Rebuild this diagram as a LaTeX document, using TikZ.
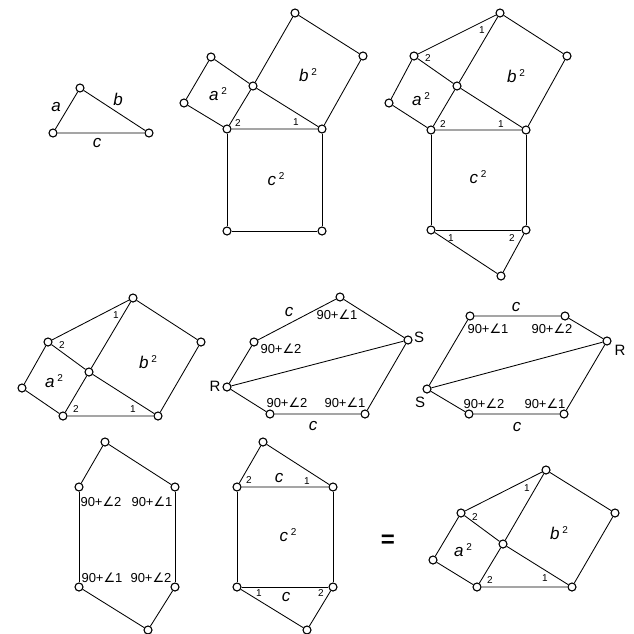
\documentclass[tikz,border=0pt]{standalone}
\usepackage{fontspec}
\setmainfont{Liberation Sans}
\newfontfamily\symfont{DejaVu Sans}
\newcommand{\angsum}[1]{90+{\symfont ∠}#1}
\newcommand{\sqlabel}[1]{#1\,\raisebox{0.75ex}{\upshape\fontsize{10}{10}\selectfont 2}}
\tikzset{
  vtx/.style={circle,draw,fill=white,line width=1.1pt,inner sep=0pt,minimum size=8pt},
  side/.style={line width=0.85pt},
  num/.style={font=\fontsize{10}{10}\selectfont,inner sep=0pt},
  sum/.style={font=\fontsize{13}{13}\selectfont,inner sep=0pt},
  var/.style={font=\fontsize{17}{17}\selectfont\itshape,inner sep=0pt},
  pnt/.style={font=\fontsize{15}{15}\selectfont,inner sep=0pt}
}
\begin{document}
\begin{tikzpicture}[x=1pt,y=-1pt]
\useasboundingbox (0,0) rectangle (634,633);

% triangle a b c
\node[vtx] (t1) at (53,133) {};
\node[vtx] (t2) at (80,88) {};
\node[vtx] (t3) at (149,133) {};
\draw[side] (t1) -- (t2) -- (t3) -- (t1);
\node[var] (la) at (56,107) {a};
\node[var] (lb) at (118,99) {b};
\node[var] (lc) at (97,143) {c};

% squares on the sides
\node[vtx] (f2a) at (227,129) {};
\node[vtx] (f2b) at (322,129) {};
\node[vtx] (f2c) at (253,86) {};
\node[vtx] (f2d) at (184,103) {};
\node[vtx] (f2e) at (211,57) {};
\node[vtx] (f2f) at (295,13) {};
\node[vtx] (f2g) at (363,56) {};
\node[vtx] (f2h) at (227,231) {};
\node[vtx] (f2i) at (322,231) {};
\draw[side] (f2a) -- (f2b) -- (f2c) -- (f2a);
\draw[side] (f2a) -- (f2d) -- (f2e) -- (f2c);
\draw[side] (f2c) -- (f2f) -- (f2g) -- (f2b);
\draw[side] (f2a) -- (f2h) -- (f2i) -- (f2b);
\node[num] (n2a) at (238,123) {2};
\node[num] (n2b) at (296,122) {1};
\node[var] (s2a) at (218,94) {\sqlabel{a}};
\node[var] (s2b) at (308,75) {\sqlabel{b}};
\node[var] (s2c) at (276,179) {\sqlabel{c}};

% with the two extra triangles
\node[vtx] (f3a) at (431,130) {};
\node[vtx] (f3b) at (526,130) {};
\node[vtx] (f3c) at (457,86) {};
\node[vtx] (f3d) at (389,103) {};
\node[vtx] (f3e) at (414,56) {};
\node[vtx] (f3f) at (500,13) {};
\node[vtx] (f3g) at (567,56) {};
\node[vtx] (f3h) at (431,230) {};
\node[vtx] (f3i) at (526,230) {};
\node[vtx] (f3j) at (501,276) {};
\draw[side] (f3a) -- (f3b) -- (f3c) -- (f3a);
\draw[side] (f3a) -- (f3d) -- (f3e) -- (f3c);
\draw[side] (f3c) -- (f3f) -- (f3g) -- (f3b);
\draw[side] (f3e) -- (f3f);
\draw[side] (f3a) -- (f3h) -- (f3i) -- (f3b);
\draw[side] (f3h) -- (f3j) -- (f3i);
\node[num] (n3a) at (482,30) {1};
\node[num] (n3b) at (428,58) {2};
\node[num] (n3c) at (443,124) {2};
\node[num] (n3d) at (501,124) {1};
\node[num] (n3e) at (451,238) {1};
\node[num] (n3f) at (512,238) {2};
\node[var] (s3a) at (421,99) {\sqlabel{a}};
\node[var] (s3b) at (516,76) {\sqlabel{b}};
\node[var] (s3c) at (478,177) {\sqlabel{c}};

% hexagon a^2 + b^2
\node[vtx] (f4a) at (63,416) {};
\node[vtx] (f4b) at (158,416) {};
\node[vtx] (f4c) at (89,372) {};
\node[vtx] (f4d) at (22,388) {};
\node[vtx] (f4e) at (48,342) {};
\node[vtx] (f4f) at (133,298) {};
\node[vtx] (f4g) at (201,342) {};
\draw[side] (f4a) -- (f4b) -- (f4c) -- (f4a);
\draw[side] (f4a) -- (f4d) -- (f4e) -- (f4c);
\draw[side] (f4c) -- (f4f) -- (f4g) -- (f4b);
\draw[side] (f4e) -- (f4f);
\node[num] (n4a) at (116,315) {1};
\node[num] (n4b) at (62,345) {2};
\node[num] (n4c) at (76,409) {2};
\node[num] (n4d) at (133,409) {1};
\node[var] (s4a) at (54,381) {\sqlabel{a}};
\node[var] (s4b) at (148,362) {\sqlabel{b}};

% cut along RS
\node[vtx] (f5r) at (227,387) {};
\node[vtx] (f5a) at (254,342) {};
\node[vtx] (f5b) at (340,297) {};
\node[vtx] (f5s) at (408,340) {};
\node[vtx] (f5c) at (365,414) {};
\node[vtx] (f5d) at (270,414) {};
\draw[side] (f5r) -- (f5a) -- (f5b) -- (f5s) -- (f5c) -- (f5d) -- (f5r);
\draw[side] (f5r) -- (f5s);
\node[var] (c5a) at (289,312) {c};
\node[var] (c5b) at (313,426) {c};
\node[sum] (g5a) at (337,315) {\angsum{1}};
\node[sum] (g5b) at (281,349) {\angsum{2}};
\node[sum] (g5c) at (287,403) {\angsum{2}};
\node[sum] (g5d) at (345,403) {\angsum{1}};
\node[pnt] (r5) at (215,386) {R};
\node[pnt] (s5) at (419,337) {S};

% one half turned over
\node[vtx] (f6a) at (470,316) {};
\node[vtx] (f6b) at (565,316) {};
\node[vtx] (f6r) at (607,341) {};
\node[vtx] (f6c) at (564,414) {};
\node[vtx] (f6d) at (469,414) {};
\node[vtx] (f6s) at (427,389) {};
\draw[side] (f6a) -- (f6b) -- (f6r) -- (f6c) -- (f6d) -- (f6s) -- (f6a);
\draw[side] (f6s) -- (f6r);
\node[var] (c6a) at (516,307) {c};
\node[var] (c6b) at (517,427) {c};
\node[sum] (g6a) at (488,329) {\angsum{1}};
\node[sum] (g6b) at (552,329) {\angsum{2}};
\node[sum] (g6c) at (484,404) {\angsum{2}};
\node[sum] (g6d) at (545,404) {\angsum{1}};
\node[pnt] (r6) at (620,350) {R};
\node[pnt] (s6) at (420,402) {S};

% upright hexagon
\node[vtx] (f7a) at (105,442) {};
\node[vtx] (f7b) at (79,487) {};
\node[vtx] (f7c) at (175,487) {};
\node[vtx] (f7d) at (79,587) {};
\node[vtx] (f7e) at (175,587) {};
\node[vtx] (f7f) at (148,630) {};
\draw[side] (f7b) -- (f7a) -- (f7c);
\draw[side] (f7b) -- (f7d);
\draw[side] (f7c) -- (f7e);
\draw[side] (f7d) -- (f7f) -- (f7e);
\node[sum] (g7a) at (101,502) {\angsum{2}};
\node[sum] (g7b) at (152,502) {\angsum{1}};
\node[sum] (g7c) at (102,578) {\angsum{1}};
\node[sum] (g7d) at (151,578) {\angsum{2}};

% c^2 with the triangles
\node[vtx] (f8a) at (263,442) {};
\node[vtx] (f8b) at (237,487) {};
\node[vtx] (f8c) at (333,487) {};
\node[vtx] (f8d) at (237,587) {};
\node[vtx] (f8e) at (333,587) {};
\node[vtx] (f8f) at (307,630) {};
\draw[side] (f8b) -- (f8a) -- (f8c) -- (f8b);
\draw[side] (f8b) -- (f8d) -- (f8e) -- (f8c);
\draw[side] (f8d) -- (f8f) -- (f8e);
\node[num] (n8a) at (249,480) {2};
\node[num] (n8b) at (307,481) {1};
\node[num] (n8c) at (259,593) {1};
\node[num] (n8d) at (321,593) {2};
\node[var] (c8a) at (279,478) {c};
\node[var] (c8b) at (286,597) {c};
\node[var] (s8c) at (288,535) {\sqlabel{c}};

\node[font=\fontsize{24}{24}\selectfont\bfseries,inner sep=0pt] (eq) at (388,541) {=};

% a^2 + b^2 again
\node[vtx] (f9a) at (477,587) {};
\node[vtx] (f9b) at (572,587) {};
\node[vtx] (f9c) at (503,544) {};
\node[vtx] (f9d) at (433,560) {};
\node[vtx] (f9e) at (461,513) {};
\node[vtx] (f9f) at (546,470) {};
\node[vtx] (f9g) at (615,513) {};
\draw[side] (f9a) -- (f9b) -- (f9c) -- (f9a);
\draw[side] (f9a) -- (f9d) -- (f9e) -- (f9c);
\draw[side] (f9c) -- (f9f) -- (f9g) -- (f9b);
\draw[side] (f9e) -- (f9f);
\node[num] (n9a) at (527,488) {1};
\node[num] (n9b) at (475,517) {2};
\node[num] (n9c) at (490,580) {2};
\node[num] (n9d) at (545,578) {1};
\node[var] (s9a) at (463,550) {\sqlabel{a}};
\node[var] (s9b) at (559,533) {\sqlabel{b}};
\end{tikzpicture}
\end{document}
